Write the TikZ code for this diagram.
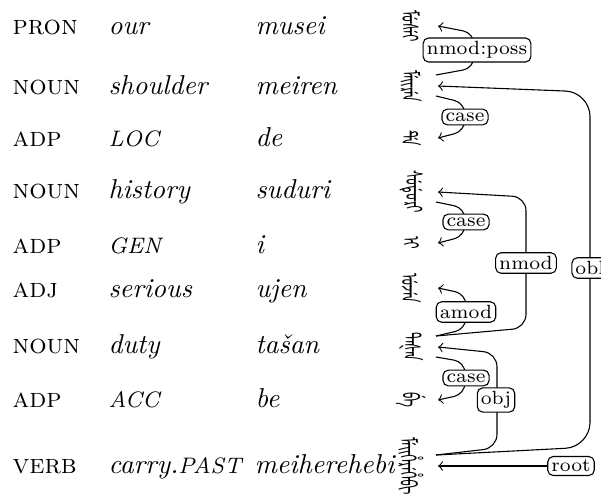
\documentclass[tikz,border=0pt]{standalone}
\usepackage{fontspec}
\newfontfamily\mnc[Script=Mongolian]{Noto Sans Mongolian}
\usetikzlibrary{calc}

\tikzset{
  postag/.style={anchor=base west, inner sep=0pt, font=\scshape},
  glosstxt/.style={anchor=base west, inner sep=0pt, font=\itshape},
  translit/.style={anchor=base west, inner sep=0pt, font=\itshape},
  manchu/.style={rotate=-90, inner sep=0pt, font=\mnc\fontsize{8.5}{9}\selectfont},
  dep/.style={->, rounded corners=4pt},
  rellab/.style={draw, fill=white, rounded corners=2pt, inner sep=1.3pt, font=\scriptsize},
}
\newcommand{\glcap}[1]{{\fontsize{8.2}{9}\selectfont #1}}
% Manchu words are set narrow along the writing direction
\newcommand{\mword}[1]{\scalebox{0.55}[1]{#1}}

\begin{document}
\begin{tikzpicture}[x=0.366pt, y=-0.366pt]
\useasboundingbox (0,0) rectangle (601,501);

% part-of-speech tags
\node[postag] (p1) at (12,34)  {pron};
\node[postag] (p2) at (12,94)  {noun};
\node[postag] (p3) at (12,146) {adp};
\node[postag] (p4) at (12,198) {noun};
\node[postag] (p5) at (12,253) {adp};
\node[postag] (p6) at (12,297) {adj};
\node[postag] (p7) at (12,353) {noun};
\node[postag] (p8) at (12,407) {adp};
\node[postag] (p9) at (12,473) {verb};

% glosses
\node[glosstxt] (g1) at (108,34)  {our};
\node[glosstxt] (g2) at (108,94)  {shoulder};
\node[glosstxt] (g3) at (108,146) {\glcap{LOC}};
\node[glosstxt] (g4) at (108,198) {history};
\node[glosstxt] (g5) at (108,253) {\glcap{GEN}};
\node[glosstxt] (g6) at (108,297) {serious};
\node[glosstxt] (g7) at (108,353) {duty};
\node[glosstxt] (g8) at (108,407) {\glcap{ACC}};
\node[glosstxt] (g9) at (108,473) {carry.\glcap{PAST}};

% transliterations
\node[translit] (t1) at (255,34)  {musei};
\node[translit] (t2) at (255,94)  {meiren};
\node[translit] (t3) at (255,146) {de};
\node[translit] (t4) at (255,198) {suduri};
\node[translit] (t5) at (255,253) {i};
\node[translit] (t6) at (255,297) {ujen};
\node[translit] (t7) at (255,353) {ta\v{s}an};
\node[translit] (t8) at (255,407) {be};
\node[translit] (t9) at (254,473) {meiherehebi};

% Manchu script, written top to bottom
\node[manchu] (m1) at (411,26)  {\mword{ᠮᡠᠰᡝᡳ}};
\node[manchu] (m2) at (411,86)  {\mword{ᠮᡝᡳᡵᡝᠨ}};
\node[manchu] (m3) at (411,138) {\mword{ᡩᡝ}};
\node[manchu] (m4) at (411,192) {\mword{ᠰᡠᡩᡠᡵᡳ}};
\node[manchu] (m5) at (411,243) {\mword{ᡳ}};
\node[manchu] (m6) at (411,288) {\mword{ᡠᠵᡝᠨ}};
\node[manchu] (m7) at (411,347) {\mword{ᡨᠠᡧᠠᠨ}};
\node[manchu] (m8) at (411,400) {\mword{ᠪᡝ}};
\node[manchu] (m9) at (411,466) {\mword{ᠮᡝᡳᡥᡝᡵᡝᡥᡝᠪᡳ}};

% attachment points beside each word
\foreach \w in {1,...,9} {
  \coordinate (m\w i) at ($(m\w.center)+(27,0)$);
  \coordinate (m\w u) at ($(m\w.center)+(25,-11)$);
  \coordinate (m\w d) at ($(m\w.center)+(25,10)$);
}

% dependency arcs
\draw[dep] (m2u) -- (474,68) -- (474,33) -- (m1i);
\draw[dep] (m2d) -- (465,103) -- (465,131) -- (m3i);
\draw[dep, rounded corners=9pt] (m9u) -- (590,447) -- (590,92) -- (m2i);
\draw[dep, rounded corners=5pt] (m7u) -- (526,328) -- (526,197) -- (m4i);
\draw[dep] (m4d) -- (465,208) -- (465,236) -- (m5i);
\draw[dep] (m7u) -- (466,329) -- (466,294) -- (m6i);
\draw[dep, rounded corners=5pt] (m9u) -- (497,448) -- (497,353) -- (m7i);
\draw[dep] (m7d) -- (465,362) -- (465,394) -- (m8i);

% relation labels
\node[rellab] (l1) at (477,50)  {nmod:poss};
\node[rellab] (l2) at (465,117) {case};
\node[rellab] (l3) at (590,268) {obl};
\node[rellab] (l4) at (526,263) {nmod};
\node[rellab] (l5) at (466,222) {case};
\node[rellab] (l6) at (466,312) {amod};
\node[rellab] (l7) at (496,400) {obj};
\node[rellab] (l8) at (466,378) {case};
\node[rellab] (root) at (571,466) {root};
\draw[->] (root) -- (m9i);
\end{tikzpicture}
\end{document}
